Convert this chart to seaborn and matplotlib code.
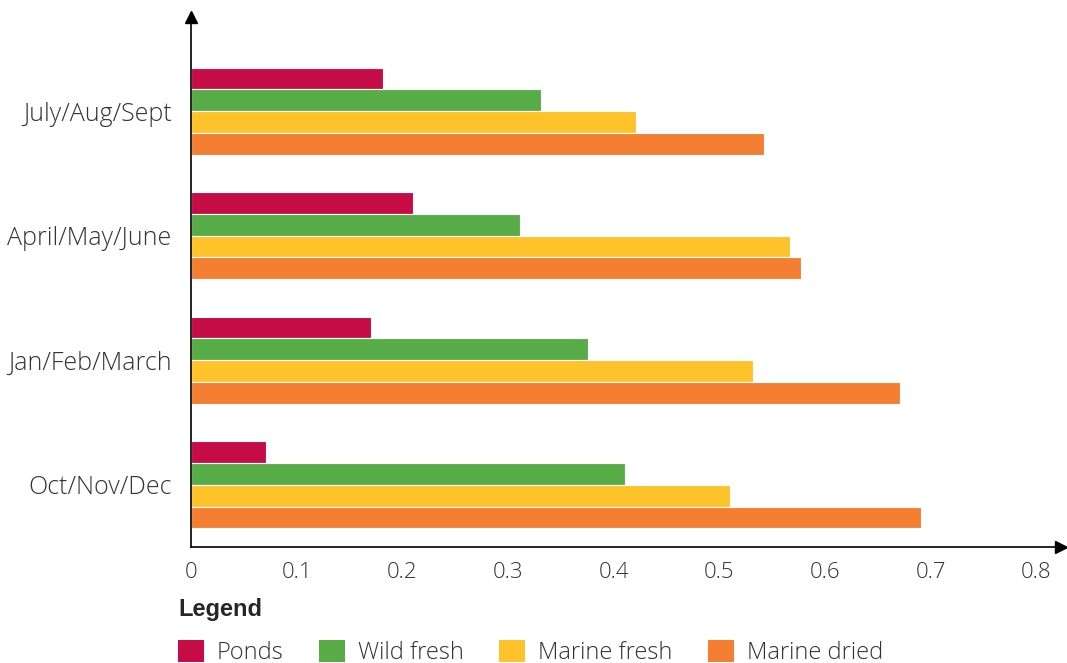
import pandas as pd
import seaborn as sns
import matplotlib.pyplot as plt
from matplotlib.patches import Patch

#-----------------------data-----------------------
quarters = ["July/Aug/Sept", "April/May/June", "Jan/Feb/March", "Oct/Nov/Dec"]
sources = ["Ponds", "Wild fresh", "Marine fresh", "Marine dried"]
ponds = [0.182, 0.210, 0.170, 0.071]
wild_fresh = [0.331, 0.311, 0.376, 0.411]
marine_fresh = [0.421, 0.567, 0.532, 0.510]
marine_dried = [0.542, 0.577, 0.671, 0.691]
colors = ["#C60C46", "#58AC48", "#FEC22A", "#F47F32"]

rows = []
for src, vals in zip(sources, [ponds, wild_fresh, marine_fresh, marine_dried]):
    for q, v in zip(quarters, vals):
        rows.append({"Quarter": q, "Source": src, "Value": v})
df = pd.DataFrame(rows)

#-----------------------plot-----------------------
sns.set_style("white")
plt.rcParams['font.family'] = ['Open Sans', 'DejaVu Sans']
plt.rcParams['font.weight'] = 'light'

fig = plt.figure(figsize=(10.67, 6.63), dpi=100)
ax = fig.add_axes([0.179, 0.175, 0.815, 0.80])

sns.barplot(data=df, y="Quarter", x="Value", hue="Source", order=quarters,
            hue_order=sources, palette=colors, saturation=1, orient="h", width=0.70,
            edgecolor="white", linewidth=0.8, legend=False, ax=ax)

ax.set_xlim(0, 0.823)
ax.set_ylim(3.5, -0.76)
ax.set_xticks([0, 0.1, 0.2, 0.3, 0.4, 0.5, 0.6, 0.7, 0.8])
ax.set_xticklabels(["0", "0.1", "0.2", "0.3", "0.4", "0.5", "0.6", "0.7", "0.8"])
ax.tick_params(axis="x", length=0, labelsize=16, colors="#333333", pad=11)
ax.tick_params(axis="y", length=0, labelsize=18, colors="#333333", pad=14)
ax.set_xlabel("")
ax.set_ylabel("")

sns.despine(ax=ax)
for s in ["left", "bottom"]:
    ax.spines[s].set_color("black")
    ax.spines[s].set_linewidth(1.2)

# arrow heads on axes
ax.plot(1, 0, ">k", markersize=9, transform=ax.transAxes, clip_on=False)
ax.plot(0, 1, "^k", markersize=9, transform=ax.transAxes, clip_on=False)

handles = [Patch(facecolor=c, edgecolor="none") for c in colors]
leg = fig.legend(handles, sources, loc="lower left", bbox_to_anchor=(0.147, -0.035),
                 ncol=4, frameon=False, fontsize=17, handlelength=1.1, handleheight=1.1,
                 handletextpad=0.55, columnspacing=1.5, labelspacing=0.8,
                 title="Legend", labelcolor="#333333")
leg._legend_box.align = "left"
leg.get_title().set_fontfamily(['Liberation Sans', 'DejaVu Sans'])
leg.get_title().set_fontweight("bold")
leg.get_title().set_fontsize(17)

fig.savefig("out.png", dpi=100)
